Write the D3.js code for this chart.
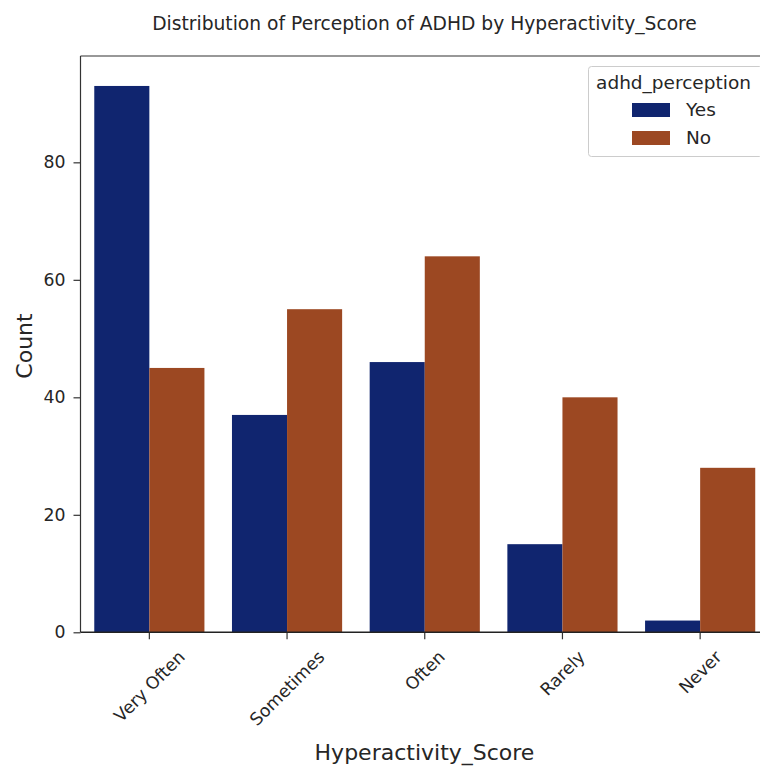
<!DOCTYPE html>
<html><head><meta charset="utf-8">
<script src="https://cdn.jsdelivr.net/npm/d3@7"></script>
<style>body{margin:0;background:#fff}svg{display:block}text{font-family:"DejaVu Sans",sans-serif;fill:#262626}</style>
</head><body><svg id="c" width="760" height="767"></svg>
<script>
const categories = ["Very Often","Sometimes","Often","Rarely","Never"];
const seriesNames = ["Yes","No"];
const yesValues = [93,37,46,15,2];
const noValues = [45,55,64,40,28];
const yTicks = [0,20,40,60,80];
const colors = ["#10256f","#9c4822"];

const svg = d3.select("#c");
const pLeft = 80.5, pRight = 769, pTop = 56, pBottom = 632.3;
const x = d3.scaleBand().domain(categories).range([pLeft, pRight]).paddingInner(0.2).paddingOuter(0.1);
const xc = d3.scaleBand().domain(categories).range([pLeft, pRight]);
const y = d3.scaleLinear().domain([0, 98.1]).range([pBottom, pTop]);
const xs = d3.scaleBand().domain(seriesNames).range([0, x.bandwidth()]);

const data = [];
categories.forEach((c,i)=>{ data.push({c, s:"Yes", v:yesValues[i]}); data.push({c, s:"No", v:noValues[i]}); });

svg.append("g").selectAll("rect").data(data).join("rect")
  .attr("x", d => x(d.c) + xs(d.s))
  .attr("y", d => y(d.v))
  .attr("width", xs.bandwidth())
  .attr("height", d => y(0) - y(d.v))
  .attr("fill", d => colors[seriesNames.indexOf(d.s)]);

const tickFs = 17.3;
// axes
const ya = svg.append("g").attr("transform", `translate(${pLeft},0)`)
  .call(d3.axisLeft(y).tickValues(yTicks).tickSize(7).tickPadding(8));
ya.select(".domain").remove();
ya.selectAll("line").attr("stroke","#333").attr("stroke-width",1.2);
ya.selectAll("text").attr("font-size", tickFs).style("font-family","DejaVu Sans").attr("fill","#262626");

const xa = svg.append("g").attr("transform", `translate(0,${pBottom})`)
  .call(d3.axisBottom(xc).tickSize(7).tickPadding(0));
xa.select(".domain").remove();
xa.selectAll("line").attr("stroke","#333").attr("stroke-width",1.2);
xa.selectAll("text").attr("font-size", tickFs).style("font-family","DejaVu Sans").attr("fill","#262626")
  .attr("text-anchor","middle").attr("dy","0.35em").attr("y",0)
  .each(function(){
    const w = this.getComputedTextLength();
    const h = tickFs*0.9;
    const half = (w + h) * Math.SQRT1_2 / 2;
    d3.select(this).attr("transform", `translate(0,${16 + half}) rotate(-45)`);
  });

// spines
svg.append("line").attr("x1",pLeft).attr("x2",pLeft).attr("y1",pTop).attr("y2",pBottom).attr("stroke","#333").attr("stroke-width",1.2);
svg.append("line").attr("x1",pLeft).attr("x2",760).attr("y1",pTop).attr("y2",pTop).attr("stroke","#333").attr("stroke-width",1.2);
svg.append("line").attr("x1",pLeft).attr("x2",760).attr("y1",pBottom).attr("y2",pBottom).attr("stroke","#222").attr("stroke-width",1.5);

// titles
svg.append("text").attr("x",424.5).attr("y",30).attr("text-anchor","middle").attr("font-size",18.7).text("Distribution of Perception of ADHD by Hyperactivity_Score");
svg.append("text").attr("transform","translate(32,346) rotate(-90)").attr("text-anchor","middle").attr("font-size",22).text("Count");
svg.append("text").attr("x",424.5).attr("y",760).attr("text-anchor","middle").attr("font-size",22).text("Hyperactivity_Score");

// legend
const lg = svg.append("g");
lg.append("rect").attr("x",588.5).attr("y",66.5).attr("width",174).attr("height",90).attr("rx",3)
  .attr("fill","#fff").attr("fill-opacity",0.8).attr("stroke","#ccc");
lg.append("text").attr("x",673.5).attr("y",89).attr("text-anchor","middle").attr("font-size",18.5).text("adhd_perception");
seriesNames.forEach((s,i)=>{
  lg.append("rect").attr("x",632).attr("y",103+i*28).attr("width",38).attr("height",14).attr("fill",colors[i]);
  lg.append("text").attr("x",686).attr("y",116+i*28).attr("font-size",18.5).text(s);
});
</script></body></html>
